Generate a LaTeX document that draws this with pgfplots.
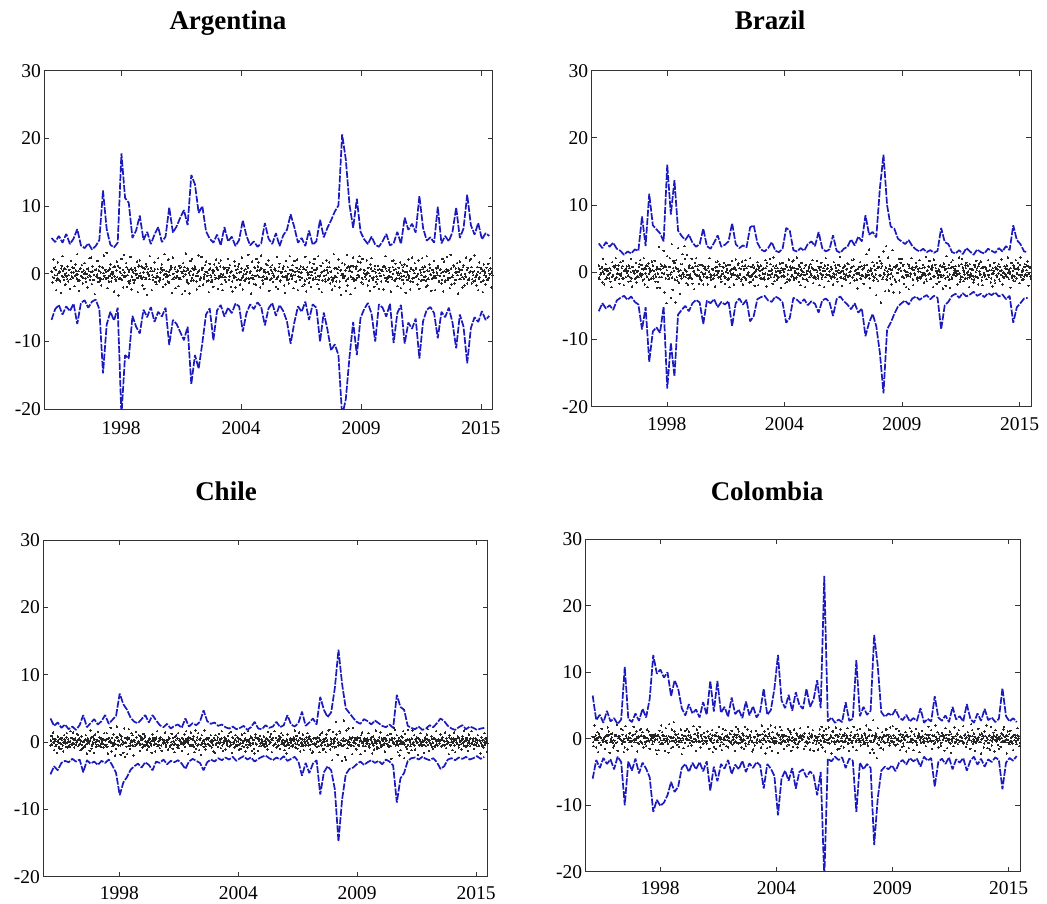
\documentclass[border=0pt]{standalone}
\usepackage{fontspec}
\setmainfont{Liberation Serif}
\usepackage{pgfplots}
\usepackage{pgfplotstable}
\pgfplotsset{compat=1.18}

\definecolor{varblue}{RGB}{26,26,190}

% Upper and lower VaR bands (one value every 46 trading days)
\pgfplotstableread[header=false,row sep=\\]{
5.3\\4.7\\5.6\\4.6\\5.9\\4.4\\5.2\\6.6\\4.2\\3.8\\
4.5\\3.6\\4.1\\5.0\\12.3\\6.6\\4.3\\3.9\\4.6\\17.8\\
11.2\\10.5\\5.3\\6.4\\8.6\\5.0\\6.2\\4.4\\5.8\\6.9\\
4.7\\5.5\\9.8\\6.1\\7.0\\8.3\\9.4\\7.2\\14.6\\13.2\\
9.0\\10.0\\6.3\\5.2\\4.6\\5.8\\4.2\\6.9\\4.8\\5.5\\
4.1\\5.0\\7.9\\5.6\\4.2\\4.8\\4.0\\4.5\\7.5\\5.2\\
4.4\\6.0\\4.1\\5.7\\6.5\\8.8\\6.9\\4.6\\5.3\\4.1\\
6.4\\4.3\\4.8\\8.0\\5.4\\6.8\\7.9\\9.2\\10.1\\20.6\\
16.9\\10.2\\6.8\\11.1\\6.2\\5.1\\4.4\\5.5\\4.3\\4.0\\
4.8\\5.9\\4.2\\4.5\\6.2\\4.4\\8.3\\6.5\\7.4\\6.1\\
11.5\\6.8\\4.9\\5.4\\4.6\\9.9\\4.5\\5.6\\4.8\\6.2\\
9.8\\5.3\\6.7\\11.7\\7.2\\5.8\\7.5\\5.1\\6.0\\5.6\\}\ArgUp
\pgfplotstableread[header=false,row sep=\\]{
-6.8\\-5.2\\-4.6\\-6.0\\-4.8\\-5.5\\-4.4\\-7.4\\-4.3\\-3.9\\
-5.0\\-4.1\\-3.8\\-5.2\\-14.7\\-7.5\\-5.6\\-6.9\\-5.0\\-21\\
-12.0\\-12.5\\-6.2\\-7.8\\-8.8\\-5.3\\-6.4\\-4.9\\-7.1\\-5.6\\
-6.3\\-5.0\\-10.5\\-6.8\\-7.4\\-8.6\\-9.8\\-7.8\\-16.3\\-12.0\\
-14.0\\-10.2\\-6.0\\-5.1\\-9.8\\-5.4\\-4.6\\-6.3\\-5.0\\-5.8\\
-4.4\\-4.8\\-8.5\\-5.8\\-4.5\\-5.2\\-4.2\\-4.9\\-7.6\\-5.1\\
-4.3\\-6.2\\-4.6\\-5.5\\-7.0\\-10.3\\-7.2\\-4.8\\-5.6\\-4.1\\
-6.8\\-4.5\\-5.0\\-10.0\\-5.7\\-8.2\\-11.3\\-10.4\\-12.0\\-21\\
-18.5\\-12.3\\-7.1\\-12.0\\-6.5\\-5.2\\-4.3\\-5.9\\-10.0\\-4.5\\
-5.0\\-6.3\\-4.4\\-10.2\\-5.8\\-4.6\\-10.3\\-7.2\\-8.1\\-6.6\\
-12.5\\-7.0\\-5.3\\-4.9\\-5.8\\-9.5\\-5.6\\-6.4\\-5.0\\-7.2\\
-11.0\\-6.0\\-7.8\\-13.2\\-8.0\\-6.4\\-7.1\\-5.5\\-6.8\\-6.2\\}\ArgLo
\pgfplotstableread[header=false,row sep=\\]{
4.3\\3.6\\4.5\\3.8\\4.4\\3.5\\3.2\\2.6\\3.1\\2.8\\
3.4\\3.2\\8.3\\3.9\\11.7\\7.0\\6.4\\5.8\\4.6\\16.0\\
8.6\\13.7\\6.2\\5.4\\4.8\\5.6\\4.4\\3.8\\4.2\\6.5\\
3.9\\3.5\\4.4\\5.5\\3.8\\4.1\\4.6\\7.3\\4.2\\3.6\\
4.0\\3.7\\6.7\\7.0\\4.4\\3.4\\3.1\\3.6\\4.5\\3.2\\
3.0\\3.5\\6.6\\6.2\\3.3\\3.1\\3.6\\3.2\\4.2\\4.6\\
3.9\\6.0\\3.6\\3.1\\3.4\\5.5\\3.2\\2.9\\3.5\\3.8\\
4.9\\4.0\\5.3\\4.6\\8.5\\5.6\\6.0\\5.2\\12.5\\17.5\\
10.0\\6.8\\6.5\\5.0\\4.6\\4.2\\4.8\\3.9\\3.4\\3.1\\
3.5\\3.0\\3.3\\2.9\\3.2\\6.6\\4.5\\4.2\\3.0\\2.8\\
3.3\\2.7\\3.6\\3.1\\2.6\\3.4\\3.0\\2.8\\3.5\\3.2\\
2.9\\3.6\\3.1\\3.9\\3.3\\7.0\\4.8\\4.2\\3.1\\3.0\\}\BraUp
\pgfplotstableread[header=false,row sep=\\]{
-5.8\\-4.6\\-5.4\\-4.9\\-5.6\\-4.2\\-3.8\\-3.5\\-4.1\\-3.6\\
-4.4\\-4.8\\-8.5\\-5.2\\-13.3\\-8.8\\-8.2\\-9.0\\-5.1\\-17.3\\
-10.5\\-15.5\\-6.3\\-5.6\\-5.0\\-5.8\\-4.6\\-4.1\\-4.5\\-7.7\\
-4.2\\-4.6\\-4.0\\-5.2\\-4.4\\-4.8\\-4.3\\-8.0\\-4.6\\-3.9\\
-4.8\\-4.1\\-7.3\\-6.5\\-4.0\\-3.7\\-3.5\\-4.2\\-4.4\\-3.6\\
-3.9\\-4.5\\-7.5\\-6.8\\-3.8\\-4.1\\-4.6\\-4.0\\-4.9\\-4.3\\
-4.7\\-6.0\\-4.2\\-3.9\\-4.4\\-6.5\\-4.0\\-3.6\\-4.3\\-4.8\\
-5.5\\-4.6\\-6.0\\-5.4\\-9.5\\-7.5\\-6.2\\-8.0\\-12.0\\-18.0\\
-8.5\\-7.5\\-6.2\\-5.1\\-4.6\\-4.2\\-4.8\\-3.9\\-3.6\\-4.1\\
-3.7\\-3.4\\-4.0\\-3.5\\-3.8\\-8.5\\-4.9\\-4.4\\-3.5\\-3.2\\
-3.8\\-3.1\\-3.6\\-3.3\\-2.9\\-3.5\\-3.2\\-3.7\\-3.1\\-3.4\\
-3.0\\-3.6\\-3.3\\-4.0\\-3.5\\-7.5\\-5.2\\-4.6\\-3.9\\-3.8\\}\BraLo
\pgfplotstableread[header=false,row sep=\\]{
3.5\\2.4\\2.9\\2.1\\2.6\\1.9\\2.3\\1.8\\2.5\\4.0\\
2.2\\2.8\\3.4\\2.6\\3.1\\4.0\\2.7\\3.3\\3.9\\7.2\\
5.6\\4.8\\3.6\\3.0\\2.8\\3.4\\4.0\\2.9\\4.0\\3.2\\
2.5\\2.2\\2.7\\2.0\\2.4\\2.6\\2.1\\3.5\\2.3\\2.8\\
2.5\\3.0\\4.7\\3.1\\2.7\\2.9\\2.4\\2.6\\2.2\\2.0\\
2.3\\1.9\\2.1\\2.4\\1.8\\2.2\\3.0\\2.0\\1.9\\2.5\\
2.1\\2.3\\3.0\\2.2\\2.5\\4.0\\2.6\\2.3\\2.8\\4.5\\
2.4\\2.9\\3.5\\2.6\\6.7\\4.8\\3.7\\4.4\\8.0\\13.7\\
8.6\\5.0\\4.3\\3.6\\3.0\\2.7\\3.4\\3.1\\2.6\\3.2\\
2.8\\2.4\\2.2\\2.6\\2.1\\7.0\\5.2\\4.8\\2.4\\2.1\\
1.9\\2.3\\1.8\\2.0\\2.5\\2.2\\2.8\\3.5\\3.1\\2.4\\
2.0\\1.8\\2.2\\2.5\\1.9\\2.3\\2.1\\1.8\\2.0\\2.1\\}\ChiUp
\pgfplotstableread[header=false,row sep=\\]{
-4.8\\-3.6\\-4.2\\-3.1\\-2.8\\-3.0\\-2.5\\-2.9\\-2.6\\-4.5\\
-2.7\\-3.2\\-2.9\\-3.4\\-2.8\\-3.1\\-2.6\\-3.5\\-4.6\\-7.9\\
-6.0\\-5.2\\-4.1\\-3.6\\-3.2\\-3.8\\-3.0\\-3.4\\-4.2\\-2.9\\
-3.1\\-2.6\\-3.3\\-2.8\\-3.0\\-2.7\\-3.2\\-4.0\\-2.9\\-2.5\\
-2.8\\-3.1\\-4.2\\-3.0\\-2.6\\-2.9\\-2.4\\-2.7\\-2.3\\-2.6\\
-2.2\\-2.8\\-2.4\\-2.1\\-2.6\\-2.3\\-2.9\\-2.5\\-2.2\\-2.0\\
-2.4\\-2.7\\-2.3\\-2.6\\-2.1\\-2.8\\-2.5\\-2.2\\-2.9\\-5.0\\
-3.1\\-4.6\\-3.2\\-2.7\\-7.8\\-4.5\\-3.6\\-4.2\\-7.0\\-14.8\\
-8.5\\-4.8\\-4.0\\-3.8\\-3.3\\-2.9\\-3.4\\-3.0\\-2.7\\-3.1\\
-2.8\\-3.3\\-2.6\\-2.9\\-3.5\\-9.0\\-5.4\\-4.6\\-2.8\\-2.4\\
-2.3\\-2.6\\-2.2\\-2.5\\-2.7\\-2.4\\-3.0\\-4.0\\-3.6\\-2.6\\
-2.4\\-2.7\\-2.3\\-2.5\\-2.2\\-2.6\\-2.4\\-2.1\\-2.5\\-2.2\\}\ChiLo
\pgfplotstableread[header=false,row sep=\\]{
6.5\\2.8\\3.6\\2.4\\4.2\\2.6\\3.1\\2.2\\2.9\\10.8\\
3.0\\2.5\\3.8\\2.7\\4.5\\3.2\\6.0\\12.6\\9.8\\10.4\\
9.2\\10.0\\6.4\\8.8\\7.5\\4.6\\3.5\\5.2\\3.8\\4.4\\
3.2\\5.5\\3.6\\8.7\\4.1\\8.7\\3.9\\4.8\\3.3\\6.2\\
3.7\\4.4\\3.1\\5.6\\3.5\\4.9\\3.2\\4.1\\7.5\\3.6\\
4.3\\7.5\\12.6\\5.8\\4.6\\6.6\\4.2\\7.0\\5.1\\4.5\\
7.5\\4.8\\5.9\\8.8\\4.6\\24.5\\2.6\\3.2\\2.4\\2.9\\
2.5\\5.5\\2.7\\3.0\\11.8\\3.4\\4.8\\3.6\\4.2\\15.6\\
11.0\\4.0\\3.3\\3.8\\3.5\\4.4\\3.2\\2.8\\3.6\\2.6\\
3.1\\2.7\\4.6\\2.4\\3.0\\2.6\\6.4\\3.2\\2.7\\3.5\\
2.5\\4.8\\2.9\\3.4\\2.6\\5.2\\3.0\\2.4\\3.8\\2.7\\
4.5\\2.8\\3.2\\2.5\\3.0\\7.6\\3.4\\2.6\\3.1\\2.5\\}\ColUp
\pgfplotstableread[header=false,row sep=\\]{
-6.0\\-3.2\\-4.4\\-2.9\\-3.8\\-3.1\\-4.6\\-2.7\\-3.5\\-10.0\\
-3.4\\-4.8\\-3.0\\-5.2\\-3.6\\-4.5\\-5.8\\-11.0\\-9.2\\-10.1\\
-9.6\\-8.5\\-6.5\\-8.0\\-7.2\\-4.4\\-3.8\\-5.0\\-3.6\\-4.6\\
-3.5\\-4.9\\-3.4\\-7.8\\-4.2\\-6.4\\-3.8\\-4.5\\-3.2\\-5.3\\
-3.9\\-4.6\\-3.3\\-5.0\\-3.7\\-4.4\\-3.5\\-4.0\\-7.5\\-3.8\\
-4.5\\-5.6\\-11.5\\-6.0\\-4.8\\-6.3\\-4.4\\-7.5\\-5.0\\-4.6\\
-5.8\\-4.9\\-5.5\\-8.5\\-5.0\\-21\\-3.0\\-3.4\\-2.7\\-3.2\\
-2.8\\-4.4\\-3.0\\-3.3\\-11.0\\-3.6\\-4.6\\-3.8\\-4.4\\-16.0\\
-9.0\\-4.8\\-4.2\\-4.6\\-4.0\\-4.9\\-3.6\\-3.2\\-3.9\\-2.9\\
-3.4\\-3.0\\-4.2\\-2.7\\-3.3\\-2.9\\-7.2\\-3.5\\-3.0\\-3.8\\
-2.8\\-4.6\\-3.1\\-3.6\\-2.9\\-4.8\\-3.3\\-2.7\\-3.9\\-3.0\\
-4.2\\-3.1\\-3.5\\-2.8\\-3.2\\-7.6\\-3.6\\-2.9\\-3.3\\-2.6\\}\ColLo

% Daily returns, six consecutive observations per row
\pgfplotstableread[header=false]{
0.4 -1.3 2.1 -0.6 1.0 -2.4
-0.2 1.7 -0.9 0.3 -2.8 1.2
2.6 -0.5 0.8 -1.6 0.1 -0.8
-1.1 0.6 -2.2 1.9 -0.4 0.9
0.2 -1.8 1.4 -0.1 2.9 -1.0
-2.5 0.7 -0.3 1.3 -1.4 0.5
1.6 -0.7 0.0 -2.0 0.8 2.3
-0.9 2.4 -1.5 0.4 -0.2 -3.0
0.6 -0.4 1.9 -1.2 1.1 -0.6
-1.7 1.0 -0.8 2.7 -0.5 0.3
3.1 -2.1 0.5 -0.3 1.4 -1.1
-0.6 0.2 -2.6 1.1 -1.0 1.8
1.2 -3.2 0.9 -0.7 2.2 -0.2
-2.0 2.8 -0.4 1.6 -1.9 0.7
0.3 -1.4 2.5 -2.3 0.6 -0.9
-1.3 0.9 -0.1 1.8 -2.7 1.3
2.0 -0.6 1.1 -1.7 0.2 -2.2
-0.8 1.5 -3.1 0.7 -0.3 2.6
0.9 -2.4 0.4 -0.5 1.7 -1.2
-1.5 0.1 2.3 -1.1 -0.7 0.8
1.4 -1.9 -0.2 2.9 -1.6 0.4
-0.4 2.1 -1.3 0.6 1.2 -2.8
2.4 -0.8 0.7 -2.1 0.3 -0.5
-1.8 1.2 -0.6 1.0 -3.0 1.6
0.5 -2.5 3.0 -0.9 0.8 -1.4
-2.9 1.9 -1.0 2.2 -0.1 0.6
1.1 -0.3 -2.3 0.2 2.7 -1.8
-0.7 2.5 0.9 -1.6 -0.4 1.3
1.8 -1.1 0.1 -2.7 1.5 -0.2
-1.2 0.5 -1.9 1.4 -0.8 2.1
0.8 -2.2 1.6 -0.4 2.0 -1.5
-2.4 1.0 -0.5 0.9 -1.2 0.2
2.2 -0.9 1.3 -1.9 0.4 -2.6
-0.3 1.8 -2.0 0.6 -0.9 1.1
1.5 -1.6 0.3 2.4 -2.3 -0.1
-1.0 0.7 -0.7 1.2 2.8 -1.3
0.1 -2.9 1.8 -0.6 -1.5 0.9
-1.6 2.2 -0.2 1.7 0.5 -2.0
2.7 -0.5 -1.4 0.3 -0.8 1.5
-0.5 1.3 2.0 -2.5 1.0 -0.7
1.3 -1.2 -0.4 0.8 -1.9 2.5
-2.2 0.4 1.5 -1.0 0.2 -0.4
0.7 -1.7 -2.8 1.9 -0.6 1.0
-1.4 2.6 0.6 -0.3 1.3 -2.1
1.9 -0.2 -1.1 2.1 -2.4 0.3
-0.9 1.1 0.2 -1.8 0.7 -1.6
2.5 -2.6 1.0 -0.1 -1.3 1.7
-1.9 0.3 -0.9 1.5 2.2 -0.8
0.6 -1.5 2.6 -2.2 -0.2 1.2
-2.7 1.6 -0.3 0.5 -1.1 2.0
1.0 -0.9 1.7 -1.4 0.4 -2.3
-1.1 2.9 -1.8 0.9 -0.5 0.7
2.1 -2.0 0.5 -3.1 1.6 -0.3
-0.6 1.4 -2.5 2.8 -1.7 1.1
0.9 -3.0 1.2 -0.8 2.4 -1.0
-2.1 0.8 -0.6 1.8 -0.2 2.6
1.7 -1.3 2.2 -1.5 0.6 -0.4
-0.8 2.0 -1.7 0.1 -2.5 1.4
2.3 -0.6 0.4 -1.9 1.2 -1.2
-1.5 1.2 -2.2 0.7 -0.3 0.5
0.4 -2.3 1.1 2.6 -1.0 -0.6
-1.2 0.6 -0.4 -2.6 1.9 1.0
2.0 -1.0 1.5 -0.7 -1.8 0.2
-0.2 1.7 -2.1 1.3 0.5 -1.4
1.4 -2.8 0.3 -0.9 2.1 -0.3
-2.3 0.9 2.4 -1.2 -0.6 1.6
0.8 -0.4 -1.6 2.0 -2.2 0.6
-1.0 2.3 0.7 -0.5 1.1 -1.9
2.6 -1.7 -0.8 1.4 -0.1 -2.5
-0.7 0.5 1.9 -2.4 0.9 0.2
1.2 -1.1 -0.3 0.7 -1.4 2.2
-2.6 1.8 -1.2 0.3 2.5 -0.9
0.5 -2.1 2.8 -1.6 -0.5 1.3
-1.4 0.2 -0.9 1.6 -2.9 0.8
1.8 -0.8 0.6 -2.0 1.3 -1.7
-0.4 2.4 -1.4 0.9 -0.7 2.0
2.2 -1.4 0.2 -1.1 2.7 -0.5
-1.7 1.0 -2.4 1.7 0.1 -1.2
0.7 -2.7 1.4 -0.2 -1.6 0.9
-0.9 1.5 -0.6 2.3 -2.0 0.4
}\ArgRet
\pgfplotstableread[header=false]{
1.0 -1.0 -0.3 0.6 -1.5 2.0
-1.8 0.3 1.2 -0.8 0.2 -0.3
0.6 -1.4 -2.2 1.5 -0.5 0.8
-1.1 2.1 0.5 -0.2 1.0 -1.7
1.5 -0.2 -0.9 1.7 -1.9 0.2
-0.7 0.9 0.2 -1.4 0.6 -1.3
2.0 -2.1 0.8 -0.1 -1.0 1.4
-1.5 0.2 -0.7 1.2 1.8 -0.6
0.5 -1.2 2.1 -1.8 -0.2 1.0
-2.2 1.3 -0.2 0.4 -0.9 1.6
1.0 -0.9 1.7 -1.4 0.4 -2.3
-1.4 3.8 -2.3 1.2 -0.7 0.9
3.2 -3.0 0.8 -4.6 2.4 -0.5
-0.9 2.1 -3.8 4.2 -2.6 1.7
1.4 -4.5 1.8 -1.2 3.6 -1.5
-3.2 1.2 -0.9 2.7 -0.3 3.9
2.0 -1.6 2.6 -1.8 0.7 -0.5
-0.8 2.0 -1.7 0.1 -2.5 1.4
2.1 -0.5 0.4 -1.7 1.1 -1.1
-1.2 1.0 -1.8 0.6 -0.2 0.4
0.3 -1.8 0.9 2.1 -0.8 -0.5
-1.0 0.5 -0.3 -2.1 1.5 0.8
1.6 -0.8 1.2 -0.6 -1.4 0.2
-0.2 1.4 -1.7 1.0 0.4 -1.1
1.1 -2.2 0.2 -0.7 1.7 -0.2
-1.8 0.7 1.9 -1.0 -0.5 1.3
0.6 -0.3 -1.3 1.6 -1.8 0.5
-0.8 1.8 0.6 -0.4 0.9 -1.5
2.1 -1.4 -0.6 1.1 -0.1 -2.0
-0.6 0.4 1.5 -1.9 0.7 0.2
1.0 -0.9 -0.2 0.6 -1.1 1.8
-2.1 1.4 -1.0 0.2 2.0 -0.7
0.4 -1.7 2.2 -1.3 -0.4 1.0
-1.1 0.2 -0.7 1.3 -2.3 0.6
1.4 -0.6 0.5 -1.6 1.0 -1.4
-0.3 1.9 -1.1 0.7 -0.6 1.6
1.8 -1.1 0.2 -0.9 2.2 -0.4
-1.4 0.8 -1.9 1.4 0.1 -1.0
0.6 -2.2 1.1 -0.2 -1.3 0.7
-0.7 1.2 -0.5 1.8 -1.6 0.3
0.3 -1.0 1.7 -0.5 0.8 -1.9
-0.2 1.4 -0.7 0.2 -2.2 1.0
2.1 -0.4 0.6 -1.3 0.1 -0.6
-0.9 0.5 -1.8 1.5 -0.3 0.7
0.2 -1.4 1.1 -0.1 2.3 -0.8
-2.0 0.6 -0.2 1.0 -1.1 0.4
1.3 -0.6 0.0 -1.6 0.6 1.8
-0.7 1.9 -1.2 0.3 -0.2 -2.4
0.5 -0.3 1.5 -1.0 0.9 -0.5
-1.7 1.0 -0.8 2.7 -0.5 0.3
3.4 -2.3 0.6 -0.3 1.5 -1.2
-0.8 0.3 -3.4 1.4 -1.3 2.3
1.7 -4.5 1.3 -1.0 3.1 -0.3
-2.8 3.9 -0.6 2.2 -2.7 1.0
0.4 -1.8 3.3 -3.0 0.8 -1.2
-1.4 1.0 -0.1 2.0 -3.0 1.4
2.0 -0.6 1.1 -1.7 0.2 -2.2
-0.6 1.2 -2.5 0.6 -0.2 2.1
0.7 -1.9 0.3 -0.4 1.4 -1.0
-1.2 0.1 1.8 -0.9 -0.6 0.6
1.1 -1.5 -0.2 2.3 -1.3 0.3
-0.3 1.7 -1.0 0.5 1.0 -2.2
1.9 -0.6 0.6 -1.7 0.2 -0.4
-1.4 1.0 -0.5 0.8 -2.4 1.3
0.4 -2.0 2.4 -0.7 0.6 -1.1
-2.3 1.5 -0.8 1.8 -0.1 0.5
0.9 -0.2 -1.8 0.2 2.2 -1.4
-0.6 2.0 0.7 -1.3 -0.3 1.0
1.4 -0.9 0.1 -2.2 1.2 -0.2
-1.0 0.4 -1.5 1.1 -0.6 1.7
0.6 -1.8 1.3 -0.3 1.6 -1.2
-1.9 0.8 -0.4 0.7 -1.0 0.2
1.8 -0.7 1.0 -1.5 0.3 -2.1
-0.2 1.4 -1.6 0.5 -0.7 0.9
1.2 -1.3 0.2 1.9 -1.8 -0.1
-0.8 0.6 -0.6 1.0 2.2 -1.0
0.1 -2.3 1.4 -0.5 -1.2 0.7
-1.3 1.8 -0.2 1.4 0.4 -1.6
2.2 -0.4 -1.1 0.2 -0.6 1.2
-0.4 1.0 1.6 -2.0 0.8 -0.6
}\BraRet
\pgfplotstableread[header=false]{
-0.5 0.9 -0.4 1.4 -1.2 0.2
0.4 -1.6 0.8 -0.1 -1.0 0.5
-1.0 0.6 -1.4 1.0 0.1 -0.7
1.3 -0.8 0.1 -0.7 1.6 -0.3
-0.2 1.4 -0.8 0.5 -0.4 1.2
1.1 -0.5 0.4 -1.2 0.8 -1.0
-0.8 0.1 -0.5 1.0 -1.7 0.5
0.3 -1.3 1.7 -1.0 -0.3 0.8
-1.6 1.1 -0.7 0.2 1.5 -0.5
0.7 -0.7 -0.2 0.4 -0.8 1.3
-0.5 0.4 1.3 -1.7 0.6 0.1
2.1 -1.4 -0.6 1.1 -0.1 -2.0
-1.0 2.3 0.7 -0.5 1.1 -1.9
0.8 -0.4 -1.6 2.0 -2.2 0.6
-1.8 0.7 1.9 -1.0 -0.5 1.3
1.0 -2.0 0.2 -0.6 1.5 -0.2
-0.1 1.0 -1.3 0.8 0.3 -0.8
1.2 -0.6 0.9 -0.4 -1.1 0.1
-0.7 0.4 -0.2 -1.6 1.1 0.6
0.2 -1.4 0.7 1.6 -0.6 -0.4
-0.9 0.7 -1.3 0.4 -0.2 0.3
1.4 -0.4 0.2 -1.1 0.7 -0.7
-0.5 1.2 -1.0 0.1 -1.5 0.8
1.0 -0.8 1.3 -0.9 0.4 -0.2
-1.3 0.5 -0.4 1.1 -0.1 1.6
0.5 -1.8 0.7 -0.5 1.4 -0.6
-0.4 0.8 -1.5 1.7 -1.0 0.7
1.3 -1.2 0.3 -1.9 1.0 -0.2
-0.7 1.7 -1.1 0.5 -0.3 0.4
0.6 -0.5 1.0 -0.8 0.2 -1.4
-1.6 1.0 -0.2 0.3 -0.7 1.2
0.4 -0.9 1.6 -1.3 -0.1 0.7
-1.1 0.2 -0.5 0.9 1.3 -0.5
1.5 -1.6 0.6 -0.1 -0.8 1.0
-0.5 0.7 0.1 -1.1 0.4 -1.0
1.1 -0.1 -0.7 1.3 -1.4 0.2
-0.8 1.6 0.4 -0.2 0.8 -1.3
0.4 -1.0 -1.7 1.1 -0.4 0.6
-1.3 0.2 0.9 -0.6 0.1 -0.2
0.8 -0.7 -0.2 0.5 -1.1 1.5
-0.3 0.8 1.2 -1.5 0.6 -0.4
1.6 -0.3 -0.8 0.2 -0.5 0.9
-1.0 1.3 -0.1 1.0 0.3 -1.2
0.1 -1.7 1.1 -0.4 -0.9 0.5
-0.6 0.4 -0.4 0.7 1.7 -0.8
0.9 -1.0 0.2 1.4 -1.4 -0.1
-0.2 1.1 -1.2 0.4 -0.5 0.7
1.3 -0.5 0.8 -1.1 0.2 -1.6
-1.4 0.6 -0.3 0.5 -0.7 0.1
0.6 -1.5 1.1 -0.3 1.4 -1.1
-1.0 0.4 -1.5 1.1 -0.6 1.7
1.8 -1.1 0.1 -2.7 1.5 -0.2
-0.8 3.0 1.1 -1.9 -0.5 1.6
1.3 -0.4 -2.8 0.2 3.2 -2.2
-2.6 1.7 -0.9 2.0 -0.1 0.5
0.4 -1.8 2.1 -0.6 0.6 -1.0
-1.1 0.7 -0.4 0.6 -1.8 1.0
1.4 -0.5 0.4 -1.3 0.2 -0.3
-0.2 1.3 -0.8 0.4 0.7 -1.7
0.8 -1.1 -0.1 1.7 -1.0 0.2
-0.9 0.1 1.4 -0.7 -0.4 0.5
0.5 -1.4 0.2 -0.3 1.0 -0.7
-0.6 1.2 -2.5 0.6 -0.2 2.1
1.8 -0.5 1.0 -1.5 0.2 -2.0
-1.2 0.8 -0.1 1.6 -2.4 1.2
0.2 -1.0 1.8 -1.6 0.4 -0.6
-1.2 1.7 -0.2 1.0 -1.1 0.4
0.7 -1.9 0.5 -0.4 1.3 -0.1
-0.4 0.1 -1.6 0.7 -0.6 1.1
1.9 -1.3 0.3 -0.2 0.8 -0.7
-1.0 0.6 -0.5 1.6 -0.3 0.2
0.4 -0.2 1.1 -0.7 0.7 -0.4
-0.5 1.4 -0.9 0.2 -0.1 -1.8
1.0 -0.4 0.0 -1.2 0.5 1.4
-1.5 0.4 -0.2 0.8 -0.8 0.3
0.1 -1.1 0.8 -0.1 1.7 -0.6
-0.7 0.4 -1.3 1.1 -0.2 0.5
1.6 -0.3 0.5 -1.0 0.1 -0.5
-0.1 1.0 -0.5 0.2 -1.7 0.7
0.2 -0.8 1.3 -0.4 0.6 -1.4
}\ChiRet
\pgfplotstableread[header=false]{
0.3 -1.1 2.0 -0.1 -1.3 1.0
-2.0 0.8 0.4 -0.9 1.5 -0.3
-0.4 0.2 -1.5 0.5 -0.6 1.7
1.1 -2.1 0.7 -0.4 0.8 -1.3
-1.0 0.6 -0.6 2.1 -1.8 0.4
0.4 -0.1 1.5 -0.7 1.3 -2.0
-1.3 1.9 0.1 -1.6 -0.2 0.8
0.9 -0.3 -1.1 0.6 1.8 -0.5
-0.1 1.1 -1.9 0.1 -0.8 1.3
1.5 -0.6 1.0 -1.3 0.4 -0.8
-1.1 1.4 -0.3 1.1 -1.5 0.6
0.1 -0.8 0.6 -0.4 0.7 -1.7
-2.3 0.4 -1.7 1.2 -0.8 2.0
1.0 -0.8 0.5 -1.8 1.6 -0.3
-0.1 -2.1 2.2 0.3 -1.4 1.4
-1.2 2.5 1.1 -0.6 0.6 -0.9
0.7 -1.2 -0.5 1.4 -2.3 0.1
-1.4 0.4 1.2 -0.1 1.5 -1.1
1.1 -0.6 0.2 -1.0 -0.4 1.9
-0.5 0.7 -1.8 1.4 0.9 -0.4
1.8 -1.3 0.6 -0.3 -0.8 0.9
-0.3 0.1 -0.7 1.1 0.3 -1.5
0.7 -0.4 1.3 -2.0 -1.2 0.5
-1.5 0.9 -0.2 0.4 1.8 -1.0
0.2 -1.7 1.5 -0.8 -0.1 1.3
-1.1 0.5 -1.3 0.1 0.8 -0.6
1.2 -0.9 -0.1 0.7 -1.8 1.8
-0.6 1.5 1.1 -0.6 0.2 -1.3
0.8 -0.1 -1.5 1.8 -1.1 0.4
1.4 -0.8 0.4 -0.2 1.1 -1.9
-1.6 0.3 -1.0 1.2 -0.6 0.7
0.5 -0.4 0.6 -1.3 2.0 -0.8
-0.2 1.1 -2.2 0.4 -1.4 1.5
0.8 -1.2 2.0 -1.8 1.0 -0.4
-0.7 1.7 -0.6 0.8 -2.1 0.6
1.8 -0.1 1.3 -0.4 0.6 -1.5
-0.3 0.4 -1.1 1.5 -0.9 1.2
1.0 -1.8 0.1 -1.2 1.4 -0.6
-0.8 0.8 -1.3 0.3 -0.4 1.6
0.4 -0.2 0.5 -1.5 0.8 -1.1
-0.4 -0.7 1.8 0.8 -1.6 0.3
0.7 1.3 -1.8 -0.3 0.4 -0.8
0.2 -1.6 -0.6 1.4 -0.9 1.8
-1.3 0.5 1.2 -1.9 1.5 -0.2
-0.2 1.7 -0.7 0.2 -2.2 1.1
1.1 -0.4 -0.8 1.7 0.6 -1.6
0.4 -1.5 1.4 -1.1 -0.3 0.6
-1.3 0.8 -0.4 0.5 1.6 -0.7
-1.8 -0.1 1.0 -0.6 -1.2 1.8
0.1 0.6 -1.7 1.3 0.4 -0.5
1.5 -1.0 0.5 -0.2 -0.8 0.8
-0.7 2.0 0.2 -1.0 1.4 -2.1
1.3 -0.5 -1.6 2.8 -2.1 0.5
0.8 -2.9 1.6 -0.9 0.2 -1.4
-1.4 1.0 -1.6 0.5 -0.6 1.4
1.4 -0.5 0.6 -1.0 1.7 -0.3
-0.4 1.9 -0.8 0.1 -1.0 1.5
-0.8 0.1 1.2 -1.7 0.7 -1.2
0.6 -1.1 -0.1 1.0 -1.9 0.5
0.3 -1.4 1.6 -0.4 1.1 -0.6
-1.7 0.7 -0.4 1.5 -0.9 0.3
0.8 -2.0 0.2 -0.6 1.2 -0.1
-0.6 0.1 -1.1 0.6 -0.4 1.8
0.6 -0.3 1.3 -1.5 0.4 -0.8
-0.7 2.0 -0.1 1.0 -1.3 0.1
0.4 -1.0 0.9 -0.2 0.5 -1.8
1.6 0.6 -1.4 0.0 -0.5 1.1
-2.1 -0.1 0.3 -1.1 1.7 -0.6
-0.4 0.8 -0.8 1.3 -0.3 0.4
0.2 -0.4 1.9 -0.6 0.7 -1.2
-0.8 1.0 -0.2 0.4 -1.5 2.2
1.3 -0.7 0.8 -1.8 0.1 -0.4
-0.1 1.5 -0.5 0.6 -2.2 0.8
0.5 -1.3 1.1 -0.3 2.0 -1.4
-0.6 0.4 -1.6 1.8 -1.0 0.2
0.9 -1.9 1.3 -0.1 0.6 -0.9
-1.5 0.1 -1.2 0.8 -0.4 1.4
1.8 -0.2 0.5 -2.2 1.1 -0.6
-0.8 1.2 -0.4 0.3 -1.7 0.6
0.6 -0.5 -0.8 1.6 0.1 -1.1
}\ColRet

% Small daily returns that fill the dense core of each cloud
\pgfplotstableread[header=false]{
0.3 -0.5 0.9 -0.2 0.6 -1.0
-0.7 0.1 0.4 -1.1 0.8 -0.3
0.5 -0.9 -0.1 0.7 -0.4 1.1
-0.2 0.6 -0.8 0.2 1.0 -0.6
0.9 -0.3 0.5 -0.7 -0.1 0.4
-1.0 0.8 -0.4 0.3 -0.6 0.0
0.2 -1.2 0.7 -0.5 0.4 -0.2
-0.4 0.3 1.1 -0.9 -0.2 0.6
0.7 -0.1 -0.6 0.5 -1.0 0.2
-0.8 0.9 0.1 -0.3 0.6 -0.7
0.4 -0.6 -1.1 0.8 0.0 0.3
-0.1 1.0 -0.4 -0.8 0.5 -0.5
1.2 -0.7 0.3 0.1 -0.9 0.6
-0.5 0.2 -0.3 1.0 -0.2 -1.1
0.6 -1.0 0.8 -0.4 0.3 0.1
-0.9 0.5 0.0 -0.6 1.1 -0.3
0.1 -0.4 -0.7 0.9 -0.5 0.8
-0.6 1.1 0.2 -0.1 -0.8 0.4
0.8 -0.2 -0.9 0.4 0.7 -0.6
-0.3 0.7 -0.5 -1.0 0.2 0.9
0.5 -0.8 0.6 0.0 -0.4 -0.1
-1.1 0.3 -0.2 0.7 0.9 -0.8
0.0 -0.5 1.0 -0.6 -0.3 0.5
-0.7 0.9 -0.8 0.3 0.1 -0.4
1.0 -0.1 0.4 -1.2 0.6 0.2
-0.2 0.4 -0.6 0.8 -1.0 0.7
0.7 -1.1 0.1 -0.3 0.5 -0.9
-0.5 0.6 0.9 -0.7 -0.1 0.3
0.3 -0.3 -1.0 0.6 0.8 -0.5
-0.9 0.2 0.5 -0.2 -0.6 1.0
0.6 -0.7 -0.3 1.1 0.0 -0.4
-0.1 0.8 -0.9 -0.5 0.4 0.6
0.9 -0.4 0.2 0.3 -1.1 -0.2
-0.6 1.2 -0.5 0.1 0.7 -0.8
0.2 -0.9 0.8 -0.6 -0.3 0.5
-1.0 0.0 0.3 0.9 -0.7 0.1
0.4 -0.6 -0.2 -0.8 1.0 -0.3
-0.3 0.5 1.1 -0.4 -0.5 0.8
0.8 -1.0 -0.4 0.6 0.2 -0.7
-0.7 0.3 0.0 -0.9 0.6 0.4
0.1 -0.2 0.7 0.5 -0.8 -0.6
-0.4 1.0 -1.1 0.2 0.3 0.9
1.1 -0.5 0.4 -0.3 -0.9 0.0
-0.8 0.6 -0.1 -0.7 0.5 -0.2
0.3 -1.2 0.9 0.4 -0.4 0.7
-0.5 0.1 -0.6 1.0 0.8 -1.0
0.6 -0.8 0.2 -0.1 -0.6 0.3
-0.2 0.9 -0.7 0.6 0.1 -0.5
0.9 -0.3 -0.9 -0.4 1.2 0.2
-1.0 0.4 0.5 -0.8 -0.2 0.6
0.2 -0.7 1.0 0.3 -0.5 -0.9
-0.6 0.8 -0.3 -1.1 0.7 0.1
1.0 -1.1 0.6 -0.2 0.0 -0.6
-0.3 0.5 -1.0 0.9 -0.7 0.4
0.5 -0.4 0.3 -0.6 1.1 -0.8
-0.9 1.1 -0.2 0.4 -0.4 0.6
0.7 -0.6 -0.8 0.1 0.5 -0.1
-0.1 0.2 0.9 -1.0 -0.3 0.8
0.4 -0.9 -0.5 0.7 0.2 -0.4
-0.8 0.6 0.1 -0.3 -1.1 0.5
1.1 -0.2 -0.6 0.8 0.4 -0.7
-0.4 0.9 0.3 -0.5 -0.8 0.0
0.6 -1.0 0.7 0.2 -0.2 0.9
-0.7 0.1 -0.4 -0.9 1.0 -0.3
0.3 -0.5 1.2 -0.1 -0.6 0.4
-1.1 0.7 -0.7 0.5 0.1 -0.5
0.8 -0.3 0.0 -0.8 0.6 0.2
-0.2 1.0 -0.9 0.3 -0.4 -1.0
0.5 -0.7 0.4 0.9 -0.1 0.6
-0.6 0.2 -0.3 -0.6 0.8 -0.2
0.9 -1.1 0.6 0.1 -0.9 0.3
-0.3 0.4 -1.0 0.7 0.5 -0.6
0.1 -0.6 0.8 -0.4 -0.2 1.1
-0.9 0.8 0.2 -0.2 0.3 -0.8
0.6 -0.1 -0.5 1.0 -0.7 0.0
-0.5 0.6 0.9 -0.9 0.2 0.4
1.0 -0.8 -0.2 0.4 -1.0 -0.3
-0.1 0.3 -0.7 -0.5 0.9 0.7
0.4 -1.0 0.5 0.2 -0.4 -0.9
-0.8 0.5 -0.1 0.8 0.1 -0.2
}\CoreWide
\pgfplotstableread[header=false]{
0.2 -0.3 0.5 -0.1 0.4 -0.6
-0.4 0.1 0.2 -0.7 0.5 -0.2
0.3 -0.5 -0.1 0.4 -0.2 0.7
-0.1 0.4 -0.5 0.1 0.6 -0.4
0.5 -0.2 0.3 -0.4 -0.1 0.2
-0.6 0.5 -0.2 0.2 -0.4 0.0
0.1 -0.7 0.4 -0.3 0.2 -0.1
-0.2 0.2 0.7 -0.5 -0.1 0.4
0.4 -0.1 -0.4 0.3 -0.6 0.1
-0.5 0.5 0.1 -0.2 0.4 -0.4
0.2 -0.4 -0.7 0.5 0.0 0.2
-0.1 0.6 -0.2 -0.5 0.3 -0.3
0.7 -0.4 0.2 0.1 -0.5 0.4
-0.3 0.1 -0.2 0.6 -0.1 -0.7
0.4 -0.6 0.5 -0.2 0.2 0.1
-0.5 0.3 0.0 -0.4 0.7 -0.2
0.1 -0.2 -0.4 0.5 -0.3 0.5
-0.4 0.7 0.1 -0.1 -0.5 0.2
0.5 -0.1 -0.5 0.2 0.4 -0.4
-0.2 0.4 -0.3 -0.6 0.1 0.5
0.3 -0.5 0.4 0.0 -0.2 -0.1
-0.7 0.2 -0.1 0.4 0.5 -0.5
0.0 -0.3 0.6 -0.4 -0.2 0.3
-0.4 0.5 -0.5 0.2 0.1 -0.2
0.6 -0.1 0.2 -0.7 0.4 0.1
-0.1 0.2 -0.4 0.5 -0.6 0.4
0.4 -0.7 0.1 -0.2 0.3 -0.5
-0.3 0.4 0.5 -0.4 -0.1 0.2
0.2 -0.2 -0.6 0.4 0.5 -0.3
-0.5 0.1 0.3 -0.1 -0.4 0.6
0.4 -0.4 -0.2 0.7 0.0 -0.2
-0.1 0.5 -0.5 -0.3 0.2 0.4
0.5 -0.2 0.1 0.2 -0.7 -0.1
-0.4 0.7 -0.3 0.1 0.4 -0.5
0.1 -0.5 0.5 -0.4 -0.2 0.3
-0.6 0.0 0.2 0.5 -0.4 0.1
0.2 -0.4 -0.1 -0.5 0.6 -0.2
-0.2 0.3 0.7 -0.2 -0.3 0.5
0.5 -0.6 -0.2 0.4 0.1 -0.4
-0.4 0.2 0.0 -0.5 0.4 0.2
0.1 -0.1 0.4 0.3 -0.5 -0.4
-0.2 0.6 -0.7 0.1 0.2 0.5
0.7 -0.3 0.2 -0.2 -0.5 0.0
-0.5 0.4 -0.1 -0.4 0.3 -0.1
0.2 -0.7 0.5 0.2 -0.2 0.4
-0.3 0.1 -0.4 0.6 0.5 -0.6
0.4 -0.5 0.1 -0.1 -0.4 0.2
-0.1 0.5 -0.4 0.4 0.1 -0.3
0.5 -0.2 -0.5 -0.2 0.7 0.1
-0.6 0.2 0.3 -0.5 -0.1 0.4
0.1 -0.4 0.6 0.2 -0.3 -0.5
-0.4 0.5 -0.2 -0.7 0.4 0.1
0.6 -0.7 0.4 -0.1 0.0 -0.4
-0.2 0.3 -0.6 0.5 -0.4 0.2
0.3 -0.2 0.2 -0.4 0.7 -0.5
-0.5 0.7 -0.1 0.2 -0.2 0.4
0.4 -0.4 -0.5 0.1 0.3 -0.1
-0.1 0.1 0.5 -0.6 -0.2 0.5
0.2 -0.5 -0.3 0.4 0.1 -0.2
-0.5 0.4 0.1 -0.2 -0.7 0.3
0.7 -0.1 -0.4 0.5 0.2 -0.4
-0.2 0.5 0.2 -0.3 -0.5 0.0
0.4 -0.6 0.4 0.1 -0.1 0.5
-0.4 0.1 -0.2 -0.5 0.6 -0.2
0.2 -0.3 0.7 -0.1 -0.4 0.2
-0.7 0.4 -0.4 0.3 0.1 -0.3
0.5 -0.2 0.0 -0.5 0.4 0.1
-0.1 0.6 -0.5 0.2 -0.2 -0.6
0.3 -0.4 0.2 0.5 -0.1 0.4
-0.4 0.1 -0.2 -0.4 0.5 -0.1
0.5 -0.7 0.4 0.1 -0.5 0.2
-0.2 0.2 -0.6 0.4 0.3 -0.4
0.1 -0.4 0.5 -0.2 -0.1 0.7
-0.5 0.5 0.1 -0.1 0.2 -0.5
0.4 -0.1 -0.3 0.6 -0.4 0.0
-0.3 0.4 0.5 -0.5 0.1 0.2
0.6 -0.5 -0.1 0.2 -0.6 -0.2
-0.1 0.2 -0.4 -0.3 0.5 0.4
0.2 -0.6 0.3 0.1 -0.2 -0.5
-0.5 0.3 -0.1 0.5 0.1 -0.2
}\CoreNarrow

\pgfplotsset{
  panel/.style={
    scale only axis, anchor=south west,
    xmin=-1.96, xmax=119.93, ymin=-20, ymax=30,
    xtick={18.91,51.52,84.13,116.74},
    xticklabels={1998,2004,2009,2015},
    ytick={-20,-10,0,10,20,30},
    yticklabels={-20,-10,0,10,20,30},
    tick align=inside, major tick length=5pt,
    axis line style={black!80, line width=0.8pt},
    every tick/.style={black!80, line width=0.8pt},
    ticklabel style={font=\fontsize{19.5}{22}\selectfont},
    xticklabel style={yshift=#1},
    clip=true,
  },
  panel/.default=-9pt,
  band/.style={varblue, line width=1.7pt, dash pattern=on 7pt off 1.5pt, line join=bevel},
  ret/.style={only marks, mark=*, mark size=0.7pt, black!85, mark options={line width=0pt}},
}

% #1: returns table, #2: core table, #3: row order of the core (0 forward, 79 backward)
\newcommand{\returnsplot}[3]{%
  \pgfplotsinvokeforeach{0,...,5}{%
    \addplot[ret] table[x expr=\coordindex*1.5+##1*0.25, y index=##1] {#1};
    \addplot[ret] table[x expr=abs(#3-\coordindex)*1.5+0.125+##1*0.25, y index=##1] {#2};
  }%
}

\begin{document}
\begin{tikzpicture}
\useasboundingbox (0,0) rectangle (1047pt,903pt);

\begin{axis}[panel, at={(44.3pt,493.7pt)}, width=448.4pt, height=338.6pt]
  \returnsplot{\ArgRet}{\CoreWide}{0}
  \addplot[band] table[x expr=\coordindex, y index=0] {\ArgUp};
  \addplot[band] table[x expr=\coordindex, y index=0] {\ArgLo};
\end{axis}

\begin{axis}[panel=-7.5pt, at={(591.7pt,496.3pt)}, width=439.3pt, height=336pt]
  \returnsplot{\BraRet}{\CoreWide}{79}
  \addplot[band] table[x expr=\coordindex, y index=0] {\BraUp};
  \addplot[band] table[x expr=\coordindex, y index=0] {\BraLo};
\end{axis}

\begin{axis}[panel=-6pt, at={(43.3pt,26.3pt)}, width=444.4pt, height=336.7pt]
  \returnsplot{\ChiRet}{\CoreNarrow}{0}
  \addplot[band] table[x expr=\coordindex, y index=0] {\ChiUp};
  \addplot[band] table[x expr=\coordindex, y index=0] {\ChiLo};
\end{axis}

\begin{axis}[panel=-6.5pt, at={(585.7pt,31.3pt)}, width=434.3pt, height=332.4pt]
  \returnsplot{\ColRet}{\CoreNarrow}{79}
  \addplot[band] table[x expr=\coordindex, y index=0] {\ColUp};
  \addplot[band] table[x expr=\coordindex, y index=0] {\ColLo};
\end{axis}

\begin{scope}[every node/.style={anchor=base, font=\fontsize{27}{30}\selectfont\bfseries}]
  \node at (228pt,873pt) {Argentina};
  \node at (770pt,873pt) {Brazil};
  \node at (226pt,402pt) {Chile};
  \node at (767pt,402pt) {Colombia};
\end{scope}
\end{tikzpicture}
\end{document}
